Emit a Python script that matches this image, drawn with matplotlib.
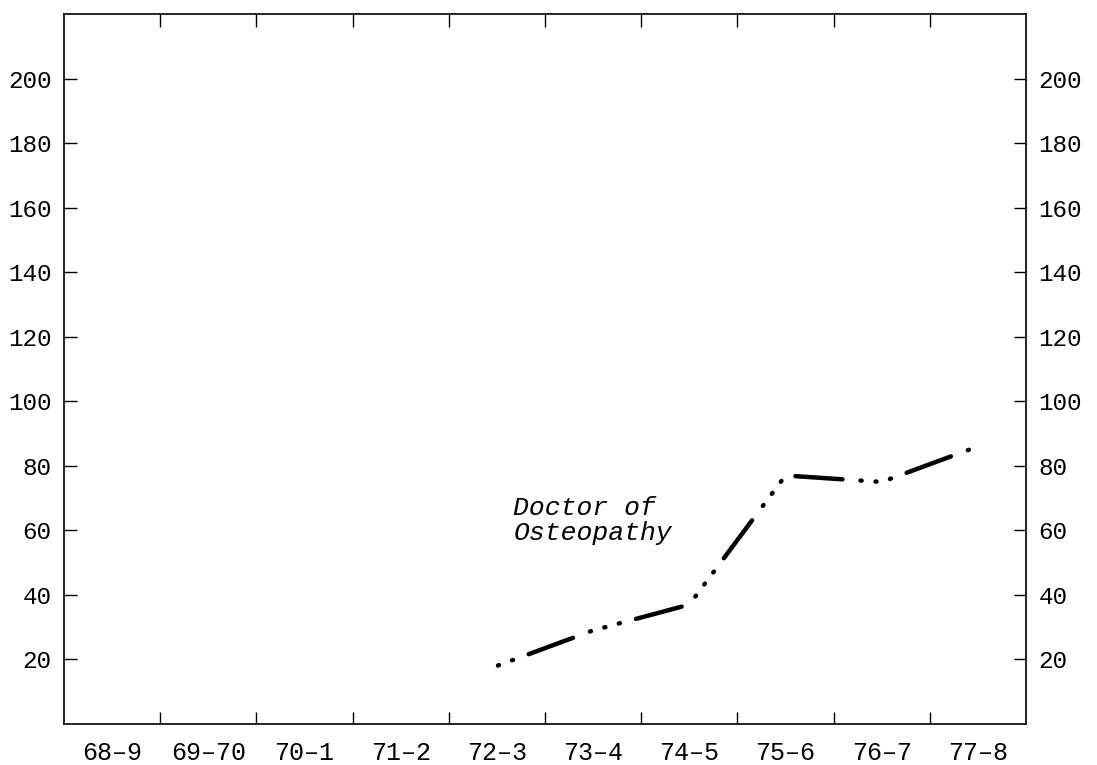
import matplotlib
matplotlib.use('Agg')
import numpy as np
from matplotlib import pyplot as plt

# School years on the x axis
years = ['68-9', '69-70', '70-1', '71-2', '72-3', '73-4', '74-5', '75-6', '76-7', '77-8']

# Doctor of Osteopathy series (starts in 72-3)
do_years = ['72-3', '73-4', '74-5', '75-6', '76-7', '77-8']
do_values = [18, 29, 37, 77, 75, 86]

y_ticks = [20, 40, 60, 80, 100, 120, 140, 160, 180, 200]

plt.rcParams['lines.scale_dashes'] = False

fig = plt.figure(figsize=(10.97, 7.65), dpi=100)
ax = fig.add_axes([64/1097, 41/765, 962/1097, 710/765])

# category centres sit between the year boundary ticks
x_pos = [years.index(y) + 0.5 for y in do_years]
ax.plot(x_pos, do_values, color='black', lw=3.2,
        linestyle=(57, (34, 13, 0.8, 10, 0.8, 10, 0.8, 12)),
        dash_capstyle='round', solid_capstyle='round')

ax.text(4.67, 63, 'Doctor of\nOsteopathy', fontsize=19, style='italic',
        family='Liberation Mono', va='center', ha='left', linespacing=1.05)

ax.set_xlim(0, len(years))
ax.set_ylim(0, 220)

# year boundary ticks, labels sit in the middle of each year
ax.set_xticks(np.arange(1, len(years)))
ax.set_xticklabels([])
ax.set_xticks(np.arange(len(years)) + 0.5, minor=True)
ax.set_xticklabels([y.replace('-', '–') for y in years], minor=True,
                   family='Liberation Mono', fontsize=18)
ax.tick_params(axis='x', which='major', direction='in', length=9, width=1,
               top=True, bottom=True)
ax.tick_params(axis='x', which='minor', length=0, pad=12)

ax.set_yticks(y_ticks)
ax.set_yticklabels([str(v) for v in y_ticks], family='Liberation Mono', fontsize=17.5)
ax.tick_params(axis='y', direction='in', length=9, width=1,
               left=True, right=True, labelleft=True, labelright=True, pad=9)

for s in ax.spines.values():
    s.set_linewidth(1.2)
    s.set_color('black')

fig.savefig('out.png', dpi=100)
